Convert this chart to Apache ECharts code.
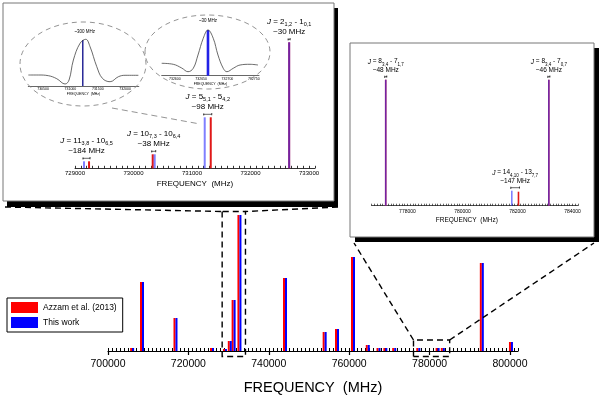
<!DOCTYPE html>
<html>
<head>
<meta charset="utf-8">
<script src="https://cdn.jsdelivr.net/npm/echarts@6/dist/echarts.min.js"></script>
<style>
  html, body { margin: 0; padding: 0; background: #fff; }
  #chart { width: 600px; height: 397px; }
</style>
</head>
<body>
<div id="chart"></div>
<script>
const FONT = '"Liberation Sans", Arial, sans-serif'

// main spectrum (frequency in MHz, relative intensity)
const mainFreq = [706000, 708460, 716790, 725870, 729100, 730300, 731250, 732700, 744030, 753900, 756970,
  760950, 764630, 767300, 769000, 771200, 777200, 782000, 783300, 793000, 800250]
const mainAzzam = [3, 69, 33, 3, 2, 10, 51, 136, 73, 19, 22, 94, 6, 3, 3, 3, 3, 3, 3, 88, 9]
const mainThisWork = [3, 69, 33, 3, 2, 10, 51, 136, 73, 19, 22, 94, 6, 3, 3, 3, 3, 3, 3, 88, 9]
const mainTicks = [700000, 720000, 740000, 760000, 780000, 800000]

// inset 1 : 729000 - 733000 MHz
const in1FreqAzzam = [729240, 730328, 731320, 732660]
const in1FreqThis = [729154, 730362, 731217, 732660]
const in1HeightAzzam = [7, 14, 51, 126]
const in1HeightThis = [7, 14, 51, 126]
const in1Ticks = [729000, 730000, 731000, 732000, 733000]
const in1Trans = ['11{s|3,8} - 10{s|6,5}', '10{s|7,3} - 10{s|6,4}', '5{s|5,1} - 5{s|4,2}', '2{s|1,2} - 1{s|0,1}']
const in1Shift = ['~184 MHz', '~38 MHz', '~98 MHz', '~30 MHz']

// inset 2 : 777000 - 784000 MHz
const in2FreqAzzam = [777210, 782036, 783140]
const in2FreqThis = [777210, 781793, 783140]
const in2HeightAzzam = [126, 14, 126]
const in2HeightThis = [126, 15, 126]
const in2Ticks = [778000, 780000, 782000, 784000]
const in2Trans = ['8{s|3,4} - 7{s|1,7}', '14{s|4,10} - 13{s|7,7}', '8{s|3,4} - 7{s|0,7}']
const in2Shift = ['~48 MHz', '~147 MHz', '~46 MHz']

// line profiles inside the two ellipses
const mini1Freq = [730231, 730414, 730597, 730750, 730902, 730975, 731054, 731176, 731281, 731359, 731482,
  731584, 731725, 731877, 731999, 732242]
const mini1Int = [11, 11, 10.3, 7.3, 2, 6, 26, 42.7, 46.7, 39.3, 19.3, 7.7, 4.3, 9.3, 10.7, 10.7]
const mini1Stick = [731226, 46]
const mini1Ticks = [730500, 731000, 731500, 732000]
const mini1Shift = '~300 MHz'

const mini2Freq = [732575, 732597, 732613, 732625, 732635, 732644, 732654, 732663, 732673, 732682, 732692,
  732699, 732711, 732724, 732743, 732758]
const mini2Int = [12.4, 11.4, 7.7, 4, 7.4, 20.7, 37.4, 45.7, 37.4, 20.7, 7.4, 4, 7.4, 10.7, 11.4, 10.7]
const mini2Stick = [732663, 45.7]
const mini2Ticks = [732600, 732650, 732700, 732750]
const mini2Shift = '~30 MHz'

const pairs = (xs, ys) => xs.map((x, i) => [x, ys[i]])
const plain = (v) => String(v) // no thousands separator
const RED = '#ff0000'
const BLUE = '#0000ff'

const chart = echarts.init(document.getElementById('chart'))

const hiddenY = (grid, max) => ({ gridIndex: grid, type: 'value', min: 0, max: max, show: false })

chart.setOption({
  animation: false,
  textStyle: { fontFamily: FONT },
  legend: {
    data: ['Azzam et al. (2013)', 'This work'],
    orient: 'vertical',
    left: 7,
    top: 298,
    icon: 'rect',
    itemWidth: 27,
    itemHeight: 11,
    itemGap: 4,
    padding: [4, 6, 4, 4],
    borderColor: '#000',
    borderWidth: 1,
    backgroundColor: '#fff',
    textStyle: { fontSize: 8.5, color: '#000', fontFamily: FONT },
  },
  grid: [
    { left: 108, top: 211, width: 410, height: 140, outerBoundsMode: 'none' }, // main
    { left: 75, top: 38.3, width: 239.9, height: 130, outerBoundsMode: 'none' }, // inset 1
    { left: 371.7, top: 75.7, width: 206.3, height: 130, outerBoundsMode: 'none' }, // inset 2
    { left: 28.3, top: 36, width: 110.5, height: 50, outerBoundsMode: 'none' }, // ellipse 1
    { left: 161.7, top: 25.7, width: 97.3, height: 50, outerBoundsMode: 'none' }, // ellipse 2
  ],
  xAxis: [
    {
      gridIndex: 0, type: 'value', min: 700000, max: 802000, interval: 1000,
      axisLine: { lineStyle: { color: '#000', width: 1.2 } },
      axisTick: { inside: true, length: 3, lineStyle: { color: '#000' } },
      splitLine: { show: false },
      axisLabel: { customValues: mainTicks, formatter: plain, fontSize: 10.5, color: '#000', margin: 8, fontFamily: FONT },
      name: 'FREQUENCY  (MHz)', nameLocation: 'middle', nameGap: 29,
      nameTextStyle: { fontSize: 14.5, color: '#000', fontFamily: FONT },
    },
    {
      gridIndex: 1, type: 'value', min: 729000, max: 733100, interval: 100,
      axisLine: { lineStyle: { color: '#000', width: 0.8 } },
      axisTick: { inside: true, length: 2.5, lineStyle: { color: '#000', width: 0.8 } },
      splitLine: { show: false },
      axisLabel: { customValues: in1Ticks, formatter: plain, fontSize: 6, color: '#000', margin: 2, fontFamily: FONT },
      name: 'FREQUENCY  (MHz)', nameLocation: 'middle', nameGap: 11,
      nameTextStyle: { fontSize: 8, color: '#000', fontFamily: FONT },
    },
    {
      gridIndex: 2, type: 'value', min: 776700, max: 784200, interval: 100,
      axisLine: { lineStyle: { color: '#000', width: 0.7 } },
      axisTick: { inside: true, length: 2, lineStyle: { color: '#000', width: 0.6 } },
      splitLine: { show: false },
      axisLabel: { customValues: in2Ticks, formatter: plain, fontSize: 5, color: '#000', margin: 3, fontFamily: FONT },
      name: 'FREQUENCY  (MHz)', nameLocation: 'middle', nameGap: 11,
      nameTextStyle: { fontSize: 6.5, color: '#000', fontFamily: FONT, padding: [0, 16, 0, 0] },
    },
    {
      gridIndex: 3, type: 'value', min: 730230, max: 732250,
      axisLine: { lineStyle: { color: '#000', width: 0.6 } },
      axisTick: { show: false }, splitLine: { show: false },
      axisLabel: { customValues: mini1Ticks, formatter: plain, fontSize: 3.5, color: '#000', margin: 1.5 },
      name: 'FREQUENCY  (MHz)', nameLocation: 'middle', nameGap: 5,
      nameTextStyle: { fontSize: 3.5, color: '#000' },
    },
    {
      gridIndex: 4, type: 'value', min: 732575, max: 732760,
      axisLine: { lineStyle: { color: '#000', width: 0.6 } },
      axisTick: { show: false }, splitLine: { show: false },
      axisLabel: { customValues: mini2Ticks, formatter: plain, fontSize: 3.5, color: '#000', margin: 1.5 },
      name: 'FREQUENCY  (MHz)', nameLocation: 'middle', nameGap: 5,
      nameTextStyle: { fontSize: 3.5, color: '#000' },
    },
    {
      // longer ticks under the labelled main values
      gridIndex: 0, type: 'value', min: 700000, max: 802000, position: 'bottom',
      axisLine: { show: false },
      axisTick: { customValues: mainTicks, length: 4, lineStyle: { color: '#000', width: 1.2 } },
      axisLabel: { show: false }, splitLine: { show: false },
    },
  ],
  yAxis: [hiddenY(0, 140), hiddenY(1, 130), hiddenY(2, 130), hiddenY(3, 50), hiddenY(4, 50)],
  series: [
    {
      name: 'Azzam et al. (2013)', type: 'bar', xAxisIndex: 0, yAxisIndex: 0,
      data: pairs(mainFreq, mainAzzam), barWidth: 2, barGap: 0,
      itemStyle: { color: RED },
    },
    {
      name: 'This work', type: 'bar', xAxisIndex: 0, yAxisIndex: 0,
      data: pairs(mainFreq, mainThisWork), barWidth: 2, barGap: 0,
      itemStyle: { color: BLUE },
    },
    {
      name: 'in1 Azzam', type: 'bar', xAxisIndex: 1, yAxisIndex: 1,
      data: pairs(in1FreqAzzam, in1HeightAzzam), barWidth: 2, barGap: '-100%',
      itemStyle: { color: '#e01818' },
    },
    {
      name: 'in1 this', type: 'bar', xAxisIndex: 1, yAxisIndex: 1,
      data: pairs(in1FreqThis, in1HeightThis), barWidth: 2, barGap: '-100%',
      itemStyle: { color: '#2a2aff', opacity: 0.6 },
    },
    {
      name: 'in2 Azzam', type: 'bar', xAxisIndex: 2, yAxisIndex: 2,
      data: pairs(in2FreqAzzam, in2HeightAzzam), barWidth: 1.6, barGap: '-100%',
      itemStyle: { color: '#e01818' },
    },
    {
      name: 'in2 this', type: 'bar', xAxisIndex: 2, yAxisIndex: 2,
      data: pairs(in2FreqThis, in2HeightThis), barWidth: 1.6, barGap: '-100%',
      itemStyle: { color: '#2a2aff', opacity: 0.6 },
    },
    {
      name: 'mini1', type: 'line', xAxisIndex: 3, yAxisIndex: 3, smooth: 0.4, symbol: 'none',
      data: pairs(mini1Freq, mini1Int), lineStyle: { color: '#444', width: 0.8 },
    },
    {
      name: 'mini1 stick', type: 'bar', xAxisIndex: 3, yAxisIndex: 3, barWidth: 1.4,
      data: [mini1Stick], itemStyle: { color: '#1a1a90' },
    },
    {
      name: 'mini2', type: 'line', xAxisIndex: 4, yAxisIndex: 4, smooth: 0.4, symbol: 'none',
      data: pairs(mini2Freq, mini2Int), lineStyle: { color: '#444', width: 0.8 },
    },
    {
      name: 'mini2 stick', type: 'bar', xAxisIndex: 4, yAxisIndex: 4, barWidth: 2.6,
      data: [mini2Stick], itemStyle: { color: '#2222e6' },
    },
  ],
})

// ---- annotations (frames, ellipses, dashed zoom guides, transition labels) ----
const px = (grid, x, y) => chart.convertToPixel({ gridIndex: grid }, [x, y])
const dash = (points, color, width) => ({
  type: 'polyline', z: 20, shape: { points: points },
  style: { stroke: color, lineWidth: width, lineDash: [6, 4], fill: null },
})
const els = []

// inset frames with drop shadow
els.push({ type: 'rect', z: -30, shape: { x: 7, y: 8, width: 331, height: 199 }, style: { fill: '#000' } })
els.push({ type: 'rect', z: -25, shape: { x: 3, y: 3, width: 331, height: 198 }, style: { fill: '#fff', stroke: '#777', lineWidth: 1 } })
els.push({ type: 'rect', z: -30, shape: { x: 355, y: 48, width: 244, height: 194 }, style: { fill: '#000' } })
els.push({ type: 'rect', z: -25, shape: { x: 350, y: 43, width: 244, height: 194 }, style: { fill: '#fff', stroke: '#777', lineWidth: 1 } })

// magnifier ellipses
els.push({ type: 'ellipse', z: 5, shape: { cx: 83, cy: 64, rx: 63, ry: 42 }, style: { fill: null, stroke: '#888', lineWidth: 0.9, lineDash: [5, 4] } })
els.push({ type: 'ellipse', z: 5, shape: { cx: 207.5, cy: 52, rx: 62.5, ry: 37 }, style: { fill: null, stroke: '#888', lineWidth: 0.9, lineDash: [5, 4] } })
els.push(dash([[112, 108], [200, 124]], '#888', 0.9))

// zoom rectangles on the main axis and guides to the insets
const r1l = px(0, 728400, 0)[0], r1r = px(0, 734200, 0)[0]
const r2l = px(0, 776000, 0)[0], r2r = px(0, 785000, 0)[0]
els.push(dash([[r1l, 211.5], [r1l, 356.5], [r1r, 356.5], [r1r, 211.5], [r1l, 211.5]], '#000', 1.4))
els.push(dash([[5, 207], [r1l, 211.5]], '#000', 1.4))
els.push(dash([[338, 207], [r1r, 211.5]], '#000', 1.4))
els.push(dash([[r2l, 356.5], [r2l, 340], [r2r, 340], [r2r, 356.5], [r2l, 356.5]], '#000', 1.4))
els.push(dash([[r2l, 340], [354, 243]], '#000', 1.4))
els.push(dash([[r2r, 340], [594, 243]], '#000', 1.4))

// transition labels with small separation brackets
function addLabels(grid, fa, fb, ha, hb, trans, shift, size, sub, dy1, dy2) {
  trans.forEach((t, i) => {
    const a = px(grid, fa[i], ha[i]), b = px(grid, fb[i], hb[i])
    const top = Math.min(a[1], b[1])
    const xl = Math.min(a[0], b[0]) - 1, xr = Math.max(a[0], b[0]) + 1
    const xc = (a[0] + b[0]) / 2
    els.push({
      type: 'text', z: 20,
      style: {
        text: '{i|J} = ' + t, x: xc, y: top - dy1, align: 'center', verticalAlign: 'middle',
        fontSize: size, fontFamily: FONT, fill: '#000',
        rich: {
          i: { fontStyle: 'italic', fontSize: size, fontFamily: FONT },
          s: { fontSize: sub, fontFamily: FONT, padding: [size * 0.8, 0, 0, 0] },
        },
      },
    })
    els.push({
      type: 'text', z: 20,
      style: { text: shift[i], x: xc, y: top - dy2, align: 'center', verticalAlign: 'middle', fontSize: size, fontFamily: FONT, fill: '#000' },
    })
    const yb = top - 3
    els.push({
      type: 'polyline', z: 20,
      shape: { points: [[xl, yb - 1], [xl, yb + 1], [xl, yb], [xr, yb], [xr, yb - 1], [xr, yb + 1]] },
      style: { stroke: '#000', lineWidth: 0.6, fill: null },
    })
  })
}
addLabels(1, in1FreqThis, in1FreqAzzam, in1HeightThis, in1HeightAzzam, in1Trans, in1Shift, 8, 5.5, 21, 11)
addLabels(2, in2FreqThis, in2FreqAzzam, in2HeightThis, in2HeightAzzam, in2Trans, in2Shift, 6.5, 4.5, 18, 9.5)

// shift labels inside the ellipses
const m1 = px(3, mini1Stick[0], mini1Stick[1])
const m2 = px(4, mini2Stick[0], mini2Stick[1])
els.push({ type: 'text', z: 20, style: { text: mini1Shift, x: m1[0] + 2, y: m1[1] - 8, align: 'center', verticalAlign: 'middle', fontSize: 4.5, fill: '#000' } })
els.push({ type: 'text', z: 20, style: { text: mini2Shift, x: m2[0], y: m2[1] - 9, align: 'center', verticalAlign: 'middle', fontSize: 4.5, fill: '#000' } })

chart.setOption({ graphic: { elements: els } })
</script>
</body>
</html>
